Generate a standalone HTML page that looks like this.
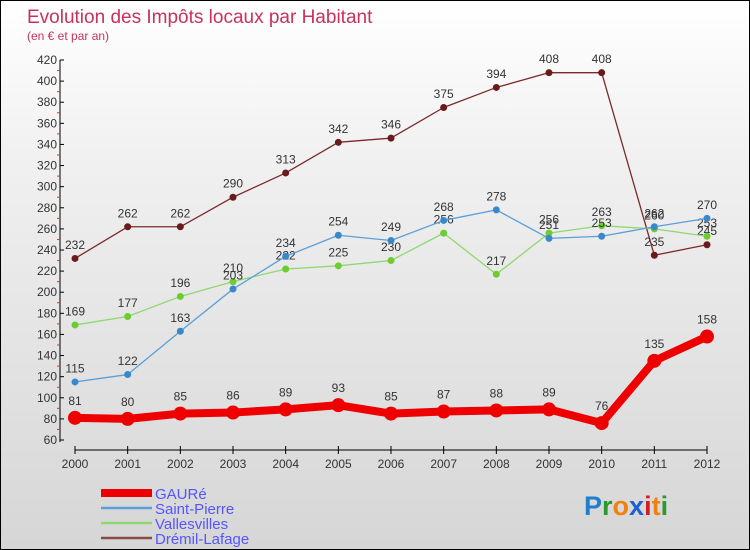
<!DOCTYPE html>
<html><head><meta charset="utf-8"><style>
html,body{margin:0;padding:0}
body{width:750px;height:550px;overflow:hidden;font-family:"Liberation Sans",sans-serif}
#wrap{position:relative;width:748px;height:548px;border:1px solid #000;background:linear-gradient(#ffffff,#f0f0f0 30%,#d6d6d6)}
</style></head><body>
<div id="wrap">
<svg id="chart" width="748" height="548" xmlns="http://www.w3.org/2000/svg" style="position:absolute;left:0;top:0">
<text x="26" y="22" font-size="19" fill="#c8325a">Evolution des Impôts locaux par Habitant</text>
<text x="26" y="39" font-size="12" fill="#c8325a">(en € et par an)</text>
<g id="axes"></g>
<g id="series"></g>
<g id="legend"></g>
<g font-size="27" font-weight="bold" font-family="'Liberation Sans',sans-serif">
<text x="583" y="514"><tspan fill="#1e7fd0">P</tspan><tspan fill="#2a9a2a">r</tspan><tspan fill="#f08010">o</tspan><tspan fill="#1e60d0">x</tspan><tspan fill="#d02020">i</tspan><tspan fill="#f08010">t</tspan><tspan fill="#2a9a2a">i</tspan></text>
</g>
</svg>
</div>
<script>
const years=[2000,2001,2002,2003,2004,2005,2006,2007,2008,2009,2010,2011,2012];
const yTicks=[60,80,100,120,140,160,180,200,220,240,260,280,300,320,340,360,380,400,420];
const gaure=[81,80,85,86,89,93,85,87,88,89,76,135,158];
const saintPierre=[115,122,163,203,234,254,249,268,278,251,253,262,270];
const vallesvilles=[169,177,196,210,222,225,230,256,217,256,263,260,253];
const dremil=[232,262,262,290,313,342,346,375,394,408,408,235,245];
const seriesNames=["GAURé","Saint-Pierre","Vallesvilles","Drémil-Lafage"];

const NS="http://www.w3.org/2000/svg";
const X0=74,X1=706,Y0=439,Y1=59,YMIN=60,YMAX=420;
function xs(i){return X0+(X1-X0)*i/(years.length-1);}
function ys(v){return Y0-(v-YMIN)*(Y0-Y1)/(YMAX-YMIN);}
function mk(tag,attrs,parent){const e=document.createElementNS(NS,tag);for(const k in attrs)e.setAttribute(k,attrs[k]);parent.appendChild(e);return e;}
const axes=document.getElementById('axes');
const ya=mk('line',{x1:59,y1:Y1,x2:59,y2:Y0+2,stroke:'#000','stroke-width':1},axes);


yTicks.forEach((t,i)=>{
  const y=ys(t);
  mk('line',{x1:59,y1:y,x2:63,y2:y,stroke:'#000'},axes);
  const tx=mk('text',{x:56,y:y+4,'font-size':12,fill:'#333','text-anchor':'end'},axes);
  tx.textContent=t;
  
  
  if(i<yTicks.length-1){const ym=ys(t+10);mk('line',{x1:56,y1:ym,x2:59,y2:ym,stroke:'#e03030'},axes);}
});
const xa=mk('line',{x1:X0,y1:449,x2:X1,y2:449,stroke:'#000'},axes);


years.forEach((yr,i)=>{
  const x=xs(i);
  mk('line',{x1:x,y1:445,x2:x,y2:453,stroke:'#000'},axes);
  const tx=mk('text',{x:x,y:467,'font-size':12,fill:'#333','text-anchor':'middle'},axes);
  tx.textContent=yr;
  
  
});
const sg=document.getElementById('series');
function drawSeries(vals,color,dot,w,r,name){
  const g=mk('g',{},sg);
  
  
  const pts=vals.map((v,i)=>xs(i)+','+ys(v)).join(' ');
  const pl=mk('polyline',{points:pts,fill:'none',stroke:color,'stroke-width':w,'stroke-linejoin':'round'},g);
  
  
  vals.forEach((v,i)=>{
    const c=mk('circle',{cx:xs(i),cy:ys(v),r:r,fill:dot},g);
    
    
    const t=mk('text',{x:xs(i),y:ys(v)-(r+6),'font-size':12,fill:'#333','text-anchor':'middle'},g);
    t.textContent=v;
    
    
  });
}
drawSeries(dremil,'#7a2a2a','#6a1a1a',1.3,3.5,'dremil-lafage');
drawSeries(vallesvilles,'#8fd870','#6ccc30',1.3,3.5,'vallesvilles');
drawSeries(saintPierre,'#5a9fd8','#3a88cc',1.3,3.5,'saint-pierre');
drawSeries(gaure,'#ee0000','#ee0000',8,7,'gaure');
const lg=document.getElementById('legend');
const lcol=['#ee0000','#5a9fd8','#8fd870','#8a4a4a'],lw=[8,2.5,2.5,2.5];
seriesNames.forEach((n,i)=>{
  const y=492+i*15;
  const g=mk('g',{},lg);
  
  
  mk('line',{x1:100,y1:y,x2:151,y2:y,stroke:lcol[i],'stroke-width':lw[i]},g);
  const t=mk('text',{x:154,y:y+6,'font-size':15,fill:'#5555ff'},g);
  t.textContent=n;
});
</script>
</body></html>
